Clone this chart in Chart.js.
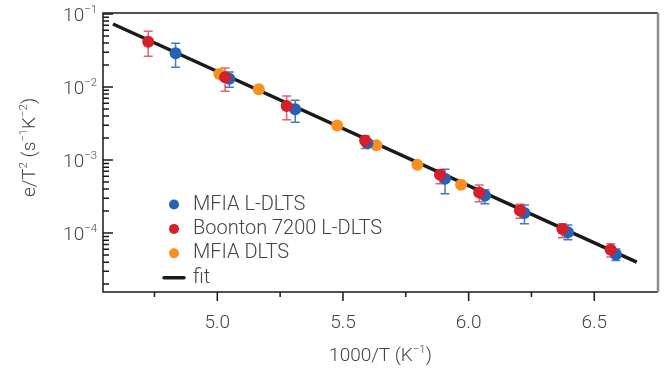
<!DOCTYPE html>
<html lang="en">
  <head>
    <meta charset="utf-8" />
    <title>Arrhenius plot</title>
    <style>
      * {
        margin: 0;
        padding: 0;
      }
      body {
        background: white;
      }
      .chartBox {
        width: 670px;
        height: 372px;
      }
    </style>
  </head>
  <body>
    <div class="chartBox">
      <canvas id="myChart"></canvas>
    </div>

    <script src="https://cdn.jsdelivr.net/npm/chart.js@4.4.0/dist/chart.umd.min.js"></script>

    <script>
      // values
      const blueX = [4.834, 5.048, 5.31, 5.597, 5.906, 6.065, 6.222, 6.395, 6.586];
      const blueY = [0.029, 0.013, 0.00497, 0.0017, 5.53e-4, 3.27e-4, 1.88e-4, 1.03e-4, 5.09e-5];
      const blueLo = [0.01866, 0.00993, 0.0033, 0.00155, 3.45e-4, 2.52e-4, 1.34e-4, 8.09e-5, 4.21e-5];
      const blueHi = [0.0397, 0.0161, 0.00659, 0.00186, 7.5e-4, 3.91e-4, 2.42e-4, 1.29e-4, 6.04e-5];

      const redX = [4.725, 5.031, 5.276, 5.588, 5.886, 6.042, 6.204, 6.373, 6.565];
      const redY = [0.0418, 0.0136, 0.00551, 0.00185, 6.28e-4, 3.59e-4, 2.04e-4, 1.135e-4, 5.92e-5];
      const redLo = [0.0264, 0.00875, 0.00355, 0.00144, 4.72e-4, 2.68e-4, 1.6e-4, 8.63e-5, 4.7e-5];
      const redHi = [0.058, 0.01824, 0.00755, 0.00216, 7.35e-4, 4.54e-4, 2.49e-4, 1.34e-4, 7.14e-5];

      const orangeX = [5.008, 5.165, 5.477, 5.633, 5.796, 5.97];
      const orangeY = [0.0151, 0.00933, 0.002965, 0.0016, 8.59e-4, 4.58e-4];

      const fitX = [4.585, 6.669];
      const fitY = [0.073, 4.0e-5];

      const seriesNames = ["MFIA L-DLTS", "Boonton 7200 L-DLTS", "MFIA DLTS", "fit"];
      const xTicks = [5.0, 5.5, 6.0, 6.5];
      const xMinorTicks = [4.75, 5.25, 5.75, 6.25];
      const yDecades = [-1, -2, -3, -4];

      const BLUE = "#2563b6";
      const RED = "#d51f2a";
      const ORANGE = "#f7901e";
      const TEXT = "#444444";
      const FONT = "Roboto, 'Liberation Sans', sans-serif";

      const pts = (xs, ys) => xs.map((x, i) => ({ x: x, y: ys[i] }));

      // text with superscript parts: [["e/T"], ["2", true], ...]
      function richWidth(ctx, parts, size) {
        let w = 0;
        parts.forEach((p) => {
          ctx.font = `300 ${p[1] ? size * 0.6 : size}px ${FONT}`;
          w += ctx.measureText(p[0]).width;
        });
        return w;
      }
      function drawRich(ctx, parts, x, y, size) {
        let cx = x;
        ctx.textBaseline = "alphabetic";
        ctx.textAlign = "left";
        parts.forEach((p) => {
          ctx.font = `300 ${p[1] ? size * 0.6 : size}px ${FONT}`;
          ctx.fillText(p[0], cx, p[1] ? y - size * 0.42 : y);
          cx += ctx.measureText(p[0]).width;
        });
      }

      const errorBars = {
        id: "errorBars",
        beforeDatasetsDraw(chart) {
          const { ctx, scales } = chart;
          const sets = [
            [blueX, blueLo, blueHi, "rgba(37,99,182,0.85)"],
            [redX, redLo, redHi, "rgba(213,31,42,0.7)"],
          ];
          ctx.save();
          ctx.lineWidth = 1.5;
          sets.forEach(([xs, lo, hi, col]) => {
            ctx.strokeStyle = col;
            xs.forEach((x, i) => {
              const px = scales.x.getPixelForValue(x);
              const y1 = scales.y.getPixelForValue(lo[i]);
              const y2 = scales.y.getPixelForValue(hi[i]);
              ctx.beginPath();
              ctx.moveTo(px, y1);
              ctx.lineTo(px, y2);
              ctx.moveTo(px - 4.5, y1);
              ctx.lineTo(px + 4.5, y1);
              ctx.moveTo(px - 4.5, y2);
              ctx.lineTo(px + 4.5, y2);
              ctx.stroke();
            });
          });
          ctx.restore();
        },
      };

      const axesDeco = {
        id: "axesDeco",
        afterDraw(chart) {
          const { ctx, chartArea: a, scales } = chart;
          ctx.save();

          // frame
          ctx.lineWidth = 1.5;
          ctx.strokeStyle = "#1a1a1a";
          ctx.beginPath();
          ctx.moveTo(a.right, a.top);
          ctx.lineTo(a.left, a.top);
          ctx.lineTo(a.left, a.bottom);
          ctx.lineTo(a.right, a.bottom);
          ctx.stroke();
          ctx.strokeStyle = "#8c8c8c";
          ctx.lineWidth = 2.5;
          ctx.beginPath();
          ctx.moveTo(a.right, a.top);
          ctx.lineTo(a.right, a.bottom);
          ctx.stroke();

          // x ticks (outside)
          ctx.strokeStyle = "#1a1a1a";
          ctx.lineWidth = 1.5;
          ctx.beginPath();
          xTicks.forEach((v) => {
            const px = scales.x.getPixelForValue(v);
            ctx.moveTo(px, a.bottom);
            ctx.lineTo(px, a.bottom + 9);
          });
          xMinorTicks.forEach((v) => {
            const px = scales.x.getPixelForValue(v);
            ctx.moveTo(px, a.bottom);
            ctx.lineTo(px, a.bottom + 5);
          });
          // y ticks (inside)
          for (let d = -5; d <= -1; d++) {
            for (let m = 1; m <= 9; m++) {
              const v = m * Math.pow(10, d);
              if (v < scales.y.min || v > scales.y.max) continue;
              const py = scales.y.getPixelForValue(v);
              ctx.moveTo(a.left, py);
              ctx.lineTo(a.left + (m === 1 ? 10 : 6), py);
            }
          }
          ctx.stroke();

          ctx.fillStyle = TEXT;
          // x tick labels
          ctx.font = `300 19px ${FONT}`;
          ctx.textAlign = "center";
          ctx.textBaseline = "alphabetic";
          xTicks.forEach((v) => {
            ctx.fillText(v.toFixed(1), scales.x.getPixelForValue(v), a.bottom + 36);
          });
          // y tick labels
          yDecades.forEach((d) => {
            const py = scales.y.getPixelForValue(Math.pow(10, d));
            const parts = [["10"], ["\u2212" + -d, true]];
            const w = richWidth(ctx, parts, 19);
            drawRich(ctx, parts, 97 - w, py + 7, 19);
          });

          // x title
          const xt = [["1000/T (K"], ["\u22121", true], [")"]];
          const xw = richWidth(ctx, xt, 19);
          drawRich(ctx, xt, (a.left + a.right) / 2 - xw / 2, a.bottom + 69, 19);

          // y title
          const yt = [["e/T"], ["2", true], [" (s"], ["\u22121", true], ["K"], ["\u22122", true], [")"]];
          const yw = richWidth(ctx, yt, 19);
          ctx.save();
          ctx.translate(35, (a.top + a.bottom) / 2 - 5);
          ctx.rotate(-Math.PI / 2);
          drawRich(ctx, yt, -yw / 2, 0, 19);
          ctx.restore();

          // legend
          const colors = [BLUE, RED, ORANGE];
          const lx = 174;
          const ly = 204.5;
          const gap = 24.4;
          seriesNames.forEach((name, i) => {
            const cy = ly + i * gap;
            if (i < 3) {
              ctx.fillStyle = colors[i];
              ctx.beginPath();
              ctx.arc(lx, cy, 5, 0, Math.PI * 2);
              ctx.fill();
            } else {
              ctx.strokeStyle = "#1a1a1a";
              ctx.lineWidth = 3.5;
              ctx.lineCap = "round";
              ctx.beginPath();
              ctx.moveTo(lx - 10, cy);
              ctx.lineTo(lx + 10, cy);
              ctx.stroke();
            }
            ctx.fillStyle = TEXT;
            ctx.font = `300 20px ${FONT}`;
            ctx.textAlign = "left";
            ctx.textBaseline = "middle";
            ctx.fillText(name, lx + 19, cy);
          });

          ctx.restore();
        },
      };

      const data = {
        datasets: [
          {
            label: seriesNames[1],
            data: pts(redX, redY),
            backgroundColor: RED,
            borderWidth: 0,
            pointRadius: 6,
            order: 1,
          },
          {
            label: seriesNames[0],
            data: pts(blueX, blueY),
            backgroundColor: BLUE,
            borderWidth: 0,
            pointRadius: 6,
            order: 2,
          },
          {
            label: seriesNames[2],
            data: pts(orangeX, orangeY),
            backgroundColor: ORANGE,
            borderWidth: 0,
            pointRadius: 6,
            order: 3,
          },
          {
            label: seriesNames[3],
            data: pts(fitX, fitY),
            showLine: true,
            borderColor: "#1a1a1a",
            borderWidth: 3.5,
            pointRadius: 0,
            order: 4,
          },
        ],
      };

      const config = {
        type: "scatter",
        data: data,
        options: {
          responsive: true,
          maintainAspectRatio: false,
          animation: false,
          events: [],
          layout: {
            padding: { left: 103, right: 12, top: 13, bottom: 80 },
          },
          plugins: {
            legend: { display: false },
            tooltip: { enabled: false },
          },
          scales: {
            x: {
              type: "linear",
              display: false,
              min: 4.5452,
              max: 6.7535,
            },
            y: {
              type: "logarithmic",
              display: false,
              min: 1.56e-5,
              max: 0.1032,
            },
          },
        },
        plugins: [errorBars, axesDeco],
      };

      const myChart = new Chart(document.getElementById("myChart"), config);
    </script>
  </body>
</html>
